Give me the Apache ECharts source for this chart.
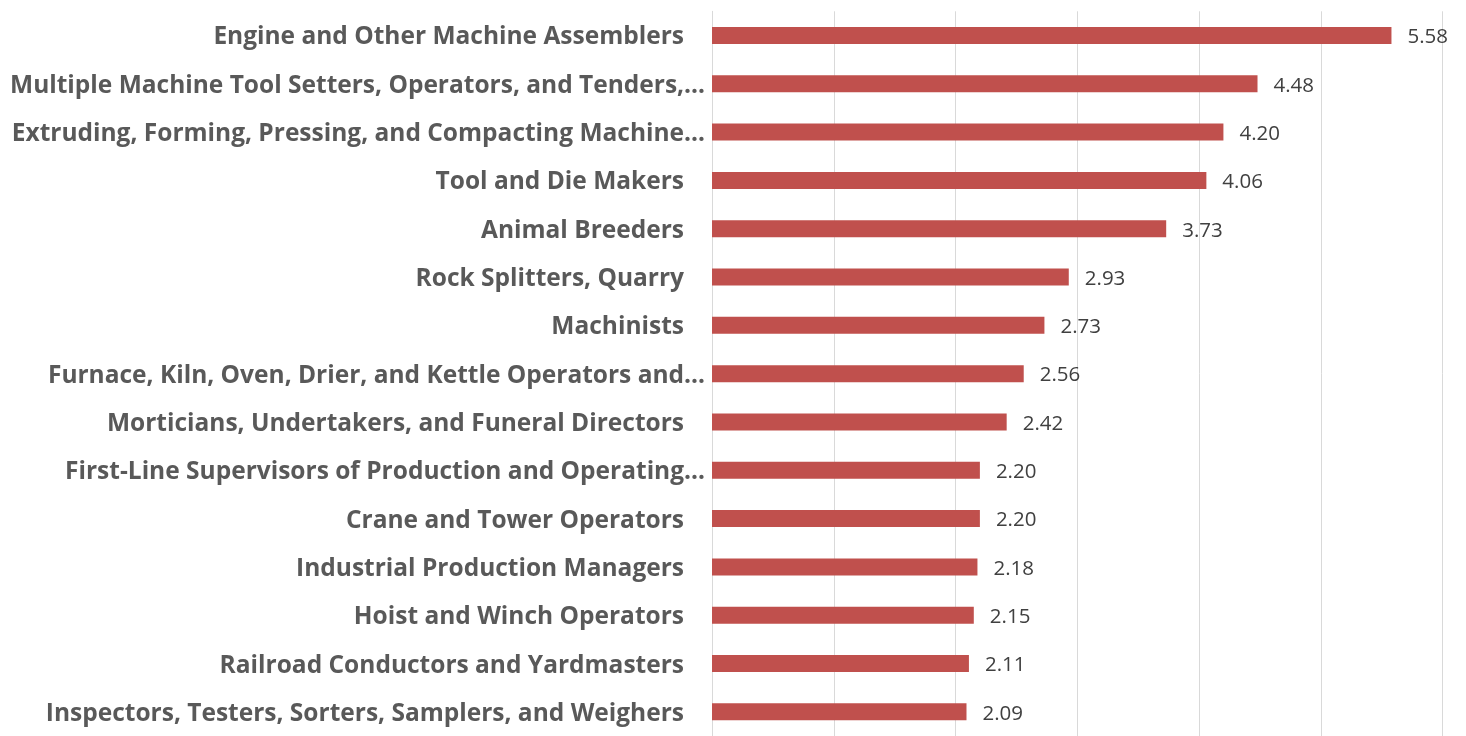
<!DOCTYPE html>
<html>
<head>
<meta charset="utf-8">
<script src="https://cdn.jsdelivr.net/npm/echarts@6/dist/echarts.min.js"></script>
<style>html,body{margin:0;padding:0;background:#fff;}#c{width:1466px;height:736px;}</style>
</head>
<body>
<div id="c"></div>
<script>
const categories = [
  "Engine and Other Machine Assemblers",
  "Multiple Machine Tool Setters, Operators, and Tenders,…",
  "Extruding, Forming, Pressing, and Compacting Machine…",
  "Tool and Die Makers",
  "Animal Breeders",
  "Rock Splitters, Quarry",
  "Machinists",
  "Furnace, Kiln, Oven, Drier, and Kettle Operators and…",
  "Morticians, Undertakers, and Funeral Directors",
  "First-Line Supervisors of Production and Operating…",
  "Crane and Tower Operators",
  "Industrial Production Managers",
  "Hoist and Winch Operators",
  "Railroad Conductors and Yardmasters",
  "Inspectors, Testers, Sorters, Samplers, and Weighers"
];
const values = [5.58, 4.48, 4.20, 4.06, 3.73, 2.93, 2.73, 2.56, 2.42, 2.20, 2.20, 2.18, 2.15, 2.11, 2.09];
const xTicks = [0, 1, 2, 3, 4, 5, 6];

const chart = echarts.init(document.getElementById('c'), null, {renderer: 'canvas'});
chart.setOption({
  animation: false,
  grid: {left: 712, top: 11.3, width: 730.6, height: 729.3, containLabel: false},
  xAxis: {
    type: 'value', min: xTicks[0], max: xTicks[xTicks.length - 1], interval: 1,
    axisLabel: {show: false}, axisLine: {show: false}, axisTick: {show: false},
    splitLine: {show: true, lineStyle: {color: '#d9d9d9', width: 1}}
  },
  yAxis: {
    type: 'category', data: categories, inverse: true,
    axisLine: {show: true, lineStyle: {color: '#d9d9d9', width: 1}},
    axisTick: {show: false},
    axisLabel: {
      margin: 7,
      formatter: function (v) { return v.endsWith('…') ? '{t|' + v + '}' : '{n|' + v + '}'; },
      rich: {
        t: {fontFamily: 'Open Sans', fontWeight: 'bold', fontSize: 24.5, color: '#595959', padding: [4, 0, 0, 0]},
        n: {fontFamily: 'Open Sans', fontWeight: 'bold', fontSize: 24.5, color: '#595959', padding: [4, 21, 0, 0]}
      }
    }
  },
  series: [{
    type: 'bar', data: values, barWidth: 17,
    itemStyle: {color: '#C0504D'},
    label: {
      show: true, position: 'right', distance: 16, offset: [0, 2],
      formatter: p => p.value.toFixed(2),
      fontFamily: 'Open Sans', fontSize: 20.5, color: '#404040'
    }
  }]
});
</script>
</body>
</html>
